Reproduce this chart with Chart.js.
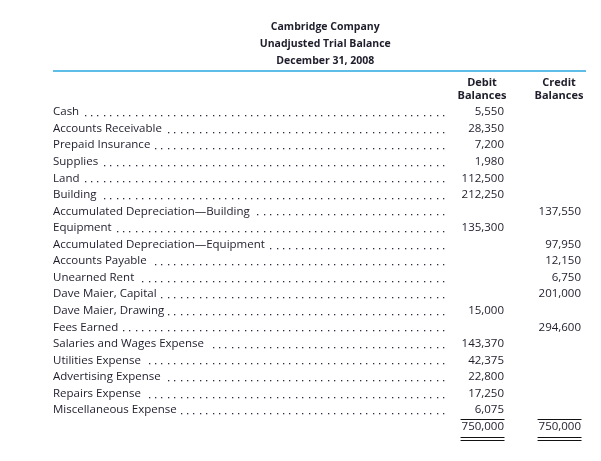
<!DOCTYPE html>
<html>
<head>
<meta charset="utf-8">
<script src="https://cdn.jsdelivr.net/npm/chart.js@4.4.1/dist/chart.umd.min.js"></script>
<style>
  body { margin: 0; background: #fff; }
  #box { width: 601px; height: 461px; }
</style>
</head>
<body>
<div id="box"><canvas id="tbCanvas"></canvas></div>
<script>
// 표 데이터
const titleLines = ['Cambridge Company', 'Unadjusted Trial Balance', 'December 31, 2008'];
const columns = ['Debit Balances', 'Credit Balances'];
const accounts = [
    'Cash', 'Accounts Receivable', 'Prepaid Insurance', 'Supplies', 'Land', 'Building',
    'Accumulated Depreciation\u2014Building', 'Equipment', 'Accumulated Depreciation\u2014Equipment',
    'Accounts Payable', 'Unearned Rent', 'Dave Maier, Capital', 'Dave Maier, Drawing',
    'Fees Earned', 'Salaries and Wages Expense', 'Utilities Expense', 'Advertising Expense',
    'Repairs Expense', 'Miscellaneous Expense'
];
const debit = [5550, 28350, 7200, 1980, 112500, 212250, null, 135300, null, null, null, null,
    15000, null, 143370, 42375, 22800, 17250, 6075];
const credit = [null, null, null, null, null, null, 137550, null, 97950, 12150, 6750, 201000,
    null, 294600, null, null, null, null, null];
const totals = [750000, 750000];

const rowLabels = accounts.concat(['']);
const ink = '#1d1d2b';
const fam = '"Open Sans", "Noto Sans", sans-serif';
const bodySize = 11.5;

function toPoints(col, values) {
    return accounts.map((a, i) => ({ x: col, y: a, v: values[i] })).filter(p => p.v !== null);
}

// 숫자, 점선, 밑줄 그리기
const tablePlugin = {
    id: 'tablePlugin',
    afterDraw(chart) {
        const ctx = chart.ctx;
        const ys = chart.scales.y;
        ctx.save();
        // 위쪽 파란 선
        ctx.strokeStyle = '#29a8e0';
        ctx.lineWidth = 1.3;
        ctx.beginPath();
        ctx.moveTo(53, 71);
        ctx.lineTo(586, 71);
        ctx.stroke();

        // 점선 리더
        ctx.font = bodySize + 'px ' + fam;
        ctx.fillStyle = '#2a2a40';
        const dotEnd = 443;
        accounts.forEach((a, i) => {
            const y = Math.round(ys.getPixelForValue(i) + 3);
            const start = ys.left + ctx.measureText(a).width + 3;
            for (let x = dotEnd; x > start; x -= 6.4) {
                ctx.fillRect(Math.round(x), y, 1.3, 1.3);
            }
        });

        // 금액
        ctx.fillStyle = ink;
        ctx.textAlign = 'right';
        ctx.textBaseline = 'middle';
        chart.data.datasets.forEach((ds, di) => {
            const meta = chart.getDatasetMeta(di);
            meta.data.forEach((el, j) => {
                const p = ds.data[j];
                const tx = el.x + 22;
                const s = p.v.toLocaleString('en-US');
                ctx.fillText(s, tx, el.y);
                if (ds.isTotal) {
                    const w = ctx.measureText(s).width;
                    ctx.strokeStyle = '#111';
                    ctx.lineWidth = 1;
                    [el.y - 7.5, el.y + 10.5, el.y + 13.5].forEach(ly => {
                        ctx.beginPath();
                        ctx.moveTo(tx - w - 1, Math.round(ly) + 0.5);
                        ctx.lineTo(tx + 0.5, Math.round(ly) + 0.5);
                        ctx.stroke();
                    });
                }
            });
        });
        ctx.restore();
    }
};

const tb = document.getElementById('tbCanvas');

new Chart(tb, {
    type: 'scatter',
    data: {
        datasets: [{
            label: 'Debit',
            data: toPoints(columns[0], debit),
            pointRadius: 0
        }, {
            label: 'Credit',
            data: toPoints(columns[1], credit),
            pointRadius: 0
        }, {
            label: 'Total',
            isTotal: true,
            data: columns.map((c, i) => ({ x: c, y: '', v: totals[i] })),
            pointRadius: 0
        }]
    },
    plugins: [tablePlugin],
    options: {
        responsive: true,
        maintainAspectRatio: false,
        animation: false,
        layout: { padding: { left: 53, right: 3.5, top: 0, bottom: 26 } },
        plugins: {
            legend: { display: false },
            tooltip: { enabled: false },
            title: {
                display: true,
                text: titleLines,
                color: ink,
                font: { family: fam, size: 10.5, weight: 'bold', lineHeight: 17 / 10.5 },
                padding: { top: 18.5, bottom: 0 }
            }
        },
        scales: {
            x: {
                type: 'category',
                position: 'top',
                labels: columns,
                offset: true,
                grid: { display: false },
                border: { display: false },
                ticks: {
                    padding: -7,
                    color: ink,
                    font: { family: fam, size: 11, weight: 'bold', lineHeight: 13 / 11 },
                    callback: (v, i) => columns[i].split(' ')
                },
                afterFit: s => { s.height = 34.2; }
            },
            y: {
                type: 'category',
                labels: rowLabels,
                offset: true,
                grid: { display: false },
                border: { display: false },
                ticks: {
                    autoSkip: false,
                    crossAlign: 'far',
                    color: ink,
                    font: { family: fam, size: bodySize }
                },
                afterFit: s => { s.width = 390.5; }
            }
        }
    }
});
</script>
</body>
</html>
